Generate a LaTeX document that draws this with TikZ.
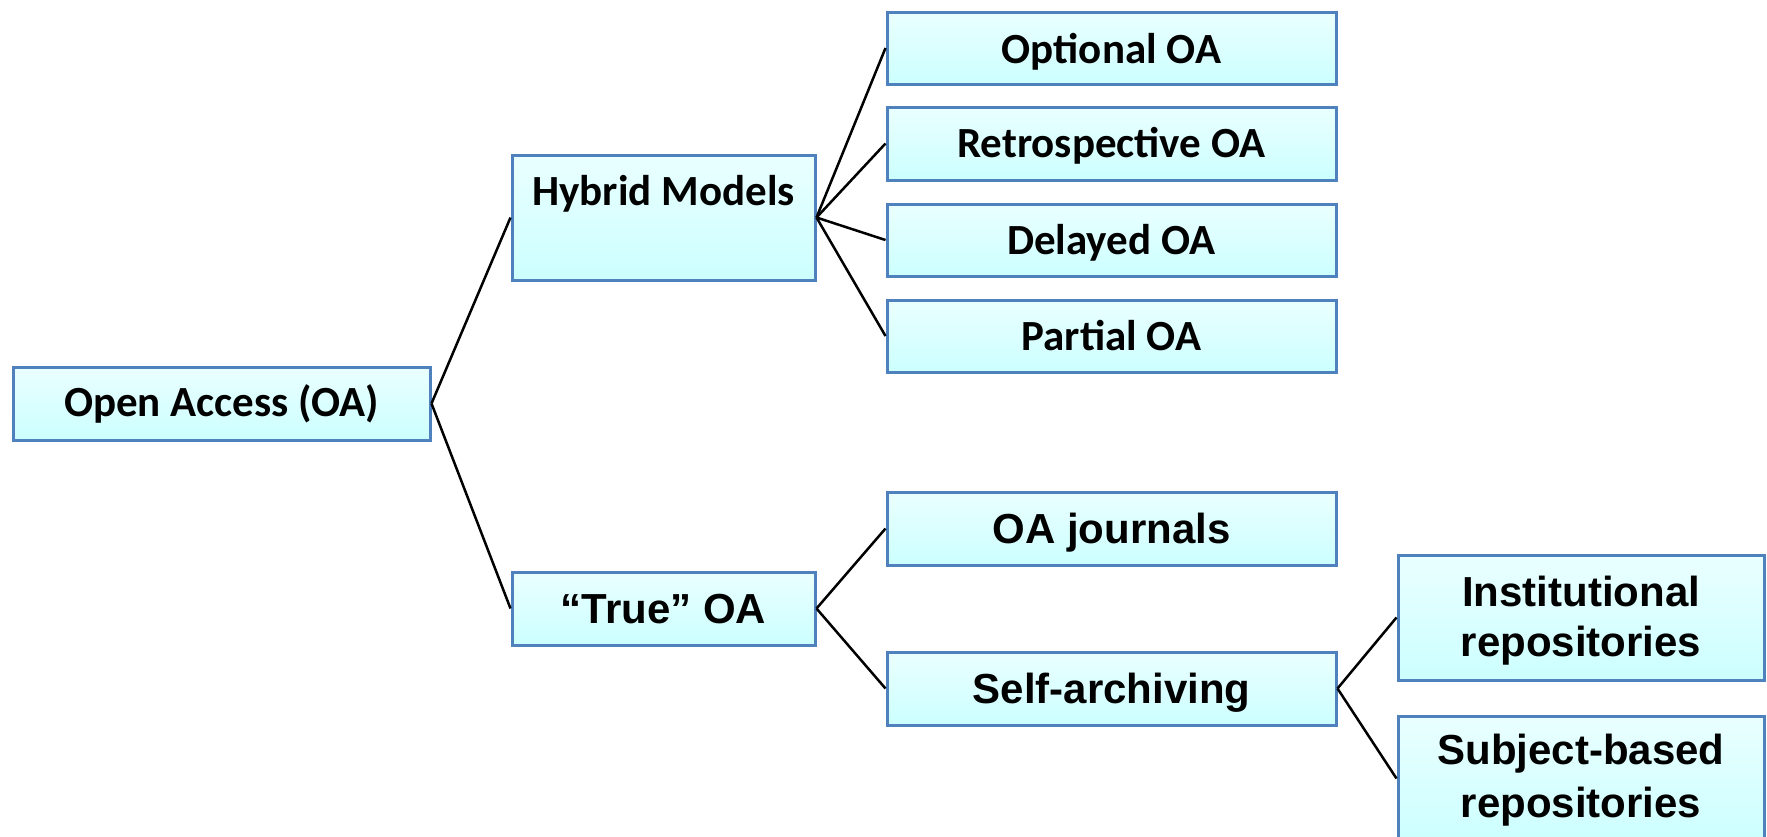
\documentclass[tikz,border=0pt]{standalone}
\usepackage{fontspec}
\setmainfont{Carlito}
\newfontfamily\arialbf{Liberation Sans}[BoldFont={Liberation Sans Bold}]
\definecolor{boxline}{RGB}{79,129,189}
\definecolor{boxtop}{RGB}{234,255,255}
\definecolor{boxbot}{RGB}{204,255,255}
\tikzset{
  % baseline sits #1 below the node centre
  drop/.style={text height=2*#1, text depth=0pt},
  oabox/.style={draw=boxline, line width=3pt, top color=boxtop, bottom color=boxbot,
    inner sep=0pt, drop=14pt, font=\fontsize{43}{50}\selectfont\bfseries},
  arialbox/.style={oabox, drop=14.5pt, font=\fontsize{42}{50}\selectfont\arialbf\bfseries},
  link/.style={draw=black, line width=2.5pt},
}
\newcommand{\twolines}[2]{\begin{tabular}[b]{@{}c@{}}#1\\#2\end{tabular}}
\begin{document}
\begin{tikzpicture}[x=1pt, y=-1pt]
\useasboundingbox (0,0) rectangle (1767,836);

% root and first level
\node[oabox, drop=12.5pt, minimum width=417pt, minimum height=73pt] (oa) at (221.5,403.5) {Open Access (OA)};
\node[oabox, minimum width=303pt, minimum height=125pt] (hyb) at (663.5,217.5) {};
\node[font=\fontsize{43}{50}\selectfont\bfseries, inner sep=0pt, drop=14pt] (hybtxt) at (663.5,191) {Hybrid Models};
\node[arialbox, drop=15pt, minimum width=303pt, minimum height=73pt] (tru) at (663.5,608.5) {“True” OA};

% hybrid models
\node[oabox, drop=15pt, minimum width=449pt, minimum height=72pt] (opt) at (1111.5,48) {Optional OA};
\node[oabox, minimum width=449pt, minimum height=73pt] (ret) at (1111.5,143.5) {Retrospective OA};
\node[oabox, minimum width=449pt, minimum height=72pt] (del) at (1111.5,240) {Delayed OA};
\node[oabox, minimum width=449pt, minimum height=72pt] (par) at (1111.5,336) {Partial OA};

% true OA
\node[arialbox, minimum width=449pt, minimum height=73pt] (jou) at (1111.5,528.5) {OA journals};
\node[arialbox, minimum width=449pt, minimum height=73pt] (sel) at (1111.5,688.5) {Self-archiving};

% self-archiving
\node[arialbox, drop=39pt, minimum width=366pt, minimum height=125pt] (ins) at (1581,617.5) {\twolines{Institutional}{repositories}};
\node[arialbox, drop=38.5pt, minimum width=366pt, minimum height=125pt,
      font=\fontsize{42}{52.5}\selectfont\arialbf\bfseries] (sub) at (1581,778.5) {\twolines{Subject-based}{repositories}};

% connectors
\draw[link] (oa.east) -- (hyb.west);
\draw[link] (oa.east) -- (tru.west);
\foreach \t in {opt,ret,del,par} \draw[link] (hyb.east) -- (\t.west);
\draw[link] (tru.east) -- (jou.west);
\draw[link] (tru.east) -- (sel.west);
\draw[link] (sel.east) -- (ins.west);
\draw[link] (sel.east) -- (sub.west);
\end{tikzpicture}
\end{document}
